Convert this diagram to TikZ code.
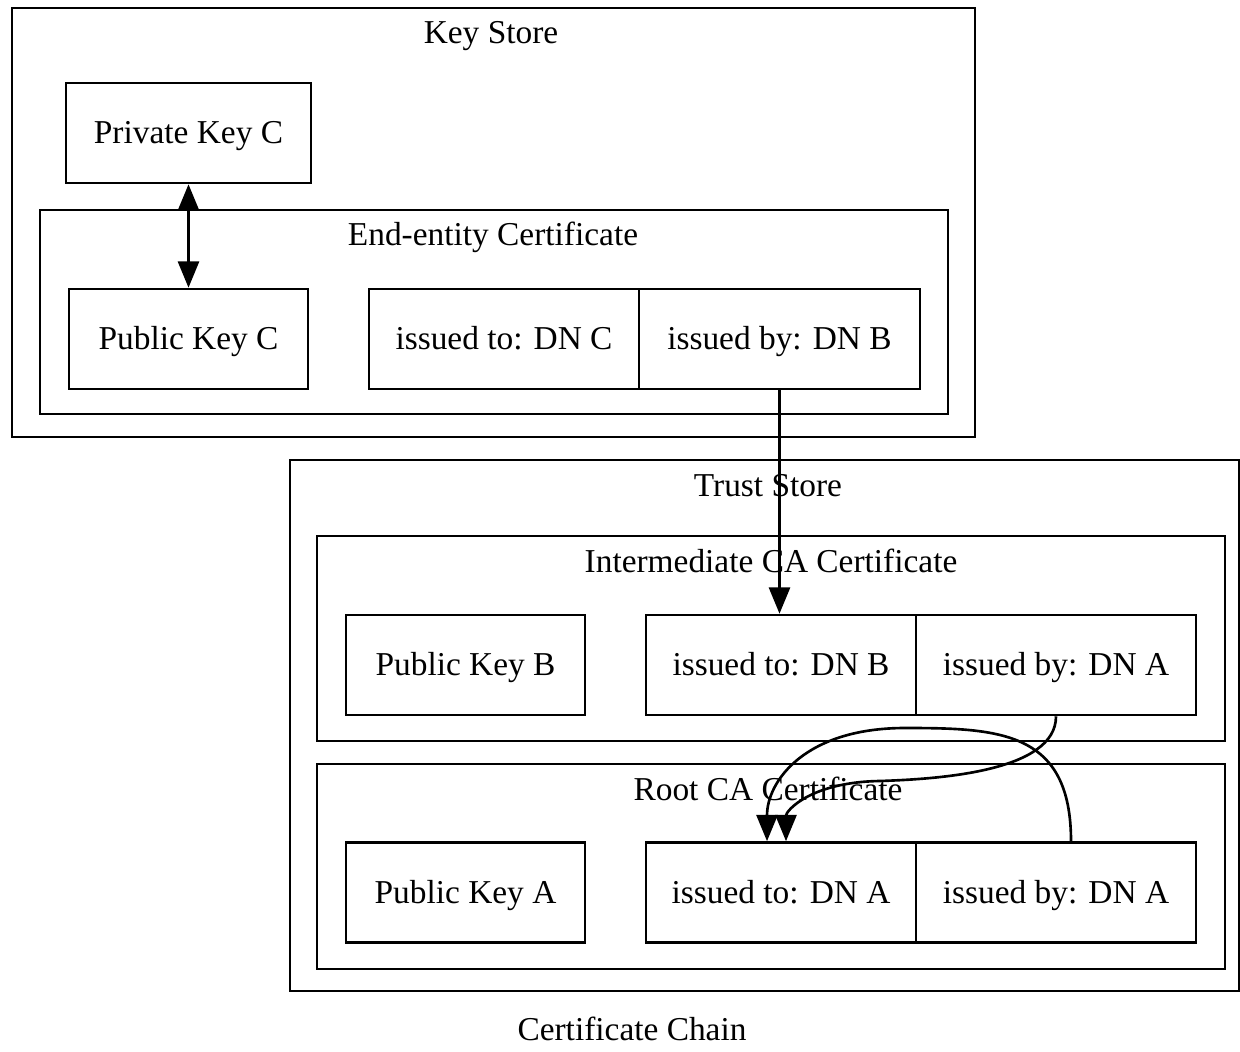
\documentclass[tikz,border=0pt]{standalone}
\usepackage{fontspec}
\setmainfont{Liberation Serif}
\usetikzlibrary{arrows.meta}

\begin{document}
\begin{tikzpicture}[x=0.02cm,y=-0.02cm,>={Triangle[length=15pt,width=12pt]},line width=1.5pt,
  font=\fontsize{19}{22}\selectfont,
  every node/.style={text height=12.5pt,text depth=0pt},
  cluster/.style={draw,line width=1.5pt},
  field/.style={draw,rectangle,inner sep=0pt,minimum height=2cm}]
  \useasboundingbox (0,0) rectangle (1240,1051);

  % Key Store
  \draw[cluster] (12,8) rectangle (975,437);
  \node (keystore) at (491,33) {Key Store};
  \node[field,minimum width=4.9cm] (privC) at (188.5,133) {Private Key C};

  \draw[cluster] (40,210) rectangle (948,414);
  \node (eecert) at (493,235) {End-entity Certificate};
  \node[field,minimum width=4.78cm] (pubC) at (188.5,339) {Public Key C};
  \node[field,minimum width=5.4cm] (toC) at (504,339) {issued to: DN C};
  \node[field,minimum width=5.62cm] (byB) at (779.5,339) {issued by: DN B};

  % Trust Store
  \draw[cluster] (290,460) rectangle (1239,991);
  \node (truststore) at (768,486) {Trust Store};

  \draw[cluster] (317,536) rectangle (1225,741);
  \node (intcert) at (771,562) {Intermediate CA Certificate};
  \node[field,minimum width=4.78cm] (pubB) at (465.5,665) {Public Key B};
  \node[field,minimum width=5.4cm] (toB) at (781,665) {issued to: DN B};
  \node[field,minimum width=5.6cm] (byA1) at (1056,665) {issued by: DN A};

  \draw[cluster] (317,764) rectangle (1225,969);
  \node (rootcert) at (768,790) {Root CA Certificate};
  \node[field,minimum width=4.78cm] (pubA) at (465.5,892.5) {Public Key A};
  \node[field,minimum width=5.4cm] (toA) at (781,892.5) {issued to: DN A};
  \node[field,minimum width=5.6cm] (byA2) at (1056,892.5) {issued by: DN A};

  \node[inner sep=0pt] (chain) at (632,1030) {Certificate Chain};

  % Verbindungen
  \draw[<->] (privC.south) -- (pubC.north);
  \draw[->] (byB.south) -- (byB.south |- toB.north);
  \draw[->] (byA1.south) .. controls +(0,55) and +(60,-2) .. (880,781)
    .. controls +(-70,1) and +(0,-30) .. ([xshift=0.1cm]toA.north);
  \draw[->] ([xshift=0.3cm]byA2.north) .. controls +(0,-110) and +(95,0) .. (905,728)
    .. controls +(-100,0) and +(0,-60) .. ([xshift=-0.28cm]toA.north);
\end{tikzpicture}
\end{document}
